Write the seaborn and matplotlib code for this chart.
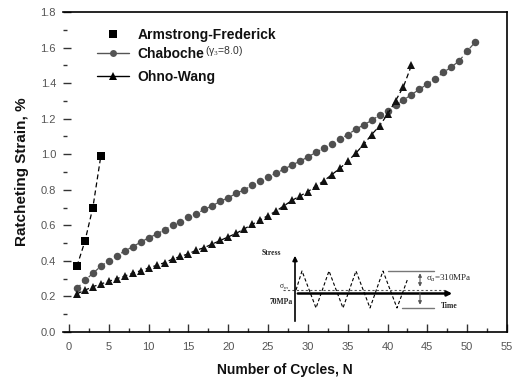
import numpy as np
import pandas as pd
import matplotlib
matplotlib.use("Agg")
import matplotlib.pyplot as plt
import seaborn as sns
from matplotlib.lines import Line2D
from matplotlib.ticker import MultipleLocator

# ---------------- data ----------------
af_cycles = [1, 2, 3, 4]
af_strain = [0.37, 0.51, 0.70, 0.99]

cb_cycles = list(range(1, 52))
cb_strain = [0.245, 0.29, 0.33, 0.37, 0.40, 0.43, 0.455, 0.48, 0.505, 0.53,
             0.55, 0.575, 0.60, 0.62, 0.645, 0.665, 0.69, 0.71, 0.735, 0.755,
             0.78, 0.80, 0.825, 0.85, 0.87, 0.895, 0.915, 0.94, 0.96, 0.985,
             1.01, 1.035, 1.06, 1.085, 1.11, 1.14, 1.165, 1.19, 1.22, 1.245,
             1.275, 1.305, 1.335, 1.365, 1.395, 1.425, 1.46, 1.49, 1.525, 1.58,
             1.63]

ow_cycles = list(range(1, 44))
ow_strain = [0.215, 0.235, 0.255, 0.27, 0.285, 0.30, 0.315, 0.33, 0.345, 0.36,
             0.375, 0.39, 0.41, 0.425, 0.44, 0.46, 0.475, 0.495, 0.515, 0.535,
             0.555, 0.58, 0.605, 0.63, 0.655, 0.68, 0.71, 0.74, 0.765, 0.79,
             0.82, 0.85, 0.885, 0.92, 0.96, 1.005, 1.055, 1.11, 1.16, 1.225,
             1.30, 1.38, 1.50]

series_names = ["Armstrong-Frederick", "Chaboche", "Ohno-Wang"]
x_ticks = [0, 5, 10, 15, 20, 25, 30, 35, 40, 45, 50, 55]
y_ticks = [0.0, 0.2, 0.4, 0.6, 0.8, 1.0, 1.2, 1.4, 1.6, 1.8]

af_df = pd.DataFrame({"N": af_cycles, "strain": af_strain})
cb_df = pd.DataFrame({"N": cb_cycles, "strain": cb_strain})
ow_df = pd.DataFrame({"N": ow_cycles, "strain": ow_strain})

# ---------------- figure ----------------
sns.set_style("ticks")
plt.rcParams["font.family"] = ["Liberation Sans", "DejaVu Sans"]
plt.rcParams["mathtext.fontset"] = "custom"
plt.rcParams["mathtext.rm"] = "Liberation Serif"
plt.rcParams["mathtext.it"] = "Liberation Serif:italic"

W, H = 513, 383
fig = plt.figure(figsize=(W / 100, H / 100), dpi=100)
L, R, T, B = 63, 507, 12, 332
ax = fig.add_axes([L / W, 1 - B / H, (R - L) / W, (B - T) / H])

dash = (0, (4, 2.5))
sns.lineplot(data=af_df, x="N", y="strain", ax=ax, color="black",
             linestyle=dash, linewidth=0.9, marker="s",
             markersize=5.5, markeredgewidth=0, markerfacecolor="black")
sns.lineplot(data=cb_df, x="N", y="strain", ax=ax, color="#555555",
             linestyle=dash, linewidth=0.9, marker="o",
             markersize=5.4, markeredgewidth=0, markerfacecolor="#505050")
sns.lineplot(data=ow_df, x="N", y="strain", ax=ax, color="black",
             linestyle=dash, linewidth=0.9, marker="^",
             markersize=6.2, markeredgewidth=0, markerfacecolor="#111111")

ax.set_xlim(-0.75, 55)
ax.set_ylim(0, 1.8)
ax.set_xticks(x_ticks)
ax.set_yticks(y_ticks)
ax.set_yticklabels([f"{v:.1f}" for v in y_ticks])
ax.xaxis.set_minor_locator(MultipleLocator(2.5))
ax.yaxis.set_minor_locator(MultipleLocator(0.1))
ax.tick_params(axis="both", which="major", direction="in", length=6,
               width=1, labelsize=8, labelcolor="#555555", color="#333333")
ax.tick_params(axis="both", which="minor", direction="in", length=3,
               width=1, color="#333333")
ax.tick_params(axis="x", which="major", pad=7)
ax.tick_params(axis="y", which="major", pad=5)
ax.tick_params(top=False, right=False, which="both")
for s in ["top", "right", "bottom"]:
    ax.spines[s].set_visible(True)
    ax.spines[s].set_linewidth(1.2)
    ax.spines[s].set_color("black")
ax.spines["left"].set_visible(False)

ax.set_xlabel("Number of Cycles, N", fontsize=10, fontweight="bold",
              labelpad=8, color="#111111")
ax.set_ylabel("Ratcheting Strain, %", fontsize=11, fontweight="bold",
              labelpad=8, color="#111111")

# ---------------- legends ----------------
h_af = Line2D([], [], color="black", linestyle="none", marker="s",
              markersize=5.5, markeredgewidth=0)
h_cb = Line2D([], [], color="#555555", linestyle="-", linewidth=1, marker="o",
              markersize=5, markeredgewidth=0)
h_ow = Line2D([], [], color="black", linestyle="-", linewidth=1, marker="^",
              markersize=5.5, markeredgewidth=0)
lkw = dict(loc="upper left", frameon=False,
           prop={"size": 10, "weight": "bold"}, handlelength=2.3,
           handletextpad=0.6, borderaxespad=0)
leg1 = ax.legend([h_af, h_cb], [series_names[0], series_names[1]],
                 bbox_to_anchor=(0.065, 0.968), labelspacing=0.35, **lkw)
for t in leg1.get_texts():
    t.set_color("#111111")
ax.add_artist(leg1)
leg2 = ax.legend([h_ow], [series_names[2]],
                 bbox_to_anchor=(0.065, 0.835), **lkw)
for t in leg2.get_texts():
    t.set_color("#111111")

# ---------------- inset schematic (pixel coordinates) ----------------
ov = fig.add_axes([0, 0, 1, 1], zorder=5)
ov.set_xlim(0, W)
ov.set_ylim(H, 0)
ov.axis("off")
ov.patch.set_alpha(0)

ov.text(205, 51, "(γ$_3$=8.0)", fontsize=7.5, va="center", ha="left",
        color="#333333", family=["Liberation Sans", "DejaVu Sans"])

# axes of schematic
ov.annotate("", xy=(295, 253), xytext=(295, 324),
            arrowprops=dict(arrowstyle="-|>", lw=1.2, color="black",
                            mutation_scale=7))
ov.annotate("", xy=(455, 293.5), xytext=(295, 293.5),
            arrowprops=dict(arrowstyle="-|>", lw=1.8, color="black",
                            mutation_scale=7))
ov.plot([283, 445], [289.5, 289.5], color="#555555", lw=0.8,
        linestyle=(0, (2, 2)))
wave_x = [296, 302, 316, 329, 343, 356, 370, 383, 397, 408]
wave_y = [290, 271, 308, 271, 308, 271, 308, 271, 308, 278]
ov.plot(wave_x, wave_y, color="black", lw=0.8, linestyle=(0, (3, 2)))
ov.plot([388, 434], [270.5, 270.5], color="#777777", lw=1.0)
ov.plot([402, 434], [307.5, 307.5], color="#777777", lw=1.0)
ov.annotate("", xy=(420, 270.5), xytext=(420, 289.5),
            arrowprops=dict(arrowstyle="<|-|>", lw=0.8, color="#555555",
                            mutation_scale=5))
ov.annotate("", xy=(420, 307.5), xytext=(420, 289.5),
            arrowprops=dict(arrowstyle="-|>", lw=0.8, color="#555555",
                            mutation_scale=5))
serif = ["Liberation Serif", "DejaVu Serif"]
ov.text(262, 253, "Stress", fontsize=5.5, family=serif, va="center",
        fontweight="bold")
ov.text(426, 278, "σ$_a$=310MPa", fontsize=6.5, family=serif, va="center")
ov.text(279, 287, "σ$_m$", fontsize=5.5, family=serif, va="center")
ov.text(270, 302, "70MPa", fontsize=5.5, family=serif, va="center",
        fontweight="bold")
ov.text(441, 306, "Time", fontsize=5.5, family=serif, va="center",
        fontweight="bold")

fig.savefig("out.png", dpi=100)
